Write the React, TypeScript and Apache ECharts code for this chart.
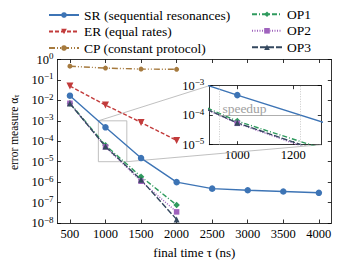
import React, { useEffect, useRef } from "react";
import * as echarts from "echarts";

const times = [500, 1000, 1500, 2000, 2500, 3000, 3500, 4000];
const srValues = [1.7e-2, 4.8e-4, 1.5e-5, 1.0e-6, 4.8e-7, 4.0e-7, 3.5e-7, 3.0e-7];
const erValues = [5.0e-2, 5.9e-3, 8.3e-4, 1.1e-4];
const cpValues = [0.47, 0.38, 0.34, 0.33];
const op1Values = [7.3e-3, 6.3e-5, 1.85e-6, 7.6e-8];
const op2Values = [7.2e-3, 5.3e-5, 1.1e-6, 3.5e-8];
const op3Values = [7.0e-3, 5.5e-5, 1.3e-6, 1.5e-8];
const xTicks = [500, 1000, 1500, 2000, 2500, 3000, 3500, 4000];
const insetXTicks = [1000, 1200];
const insetRange = [900, 1300];
const insetYRange = [1e-5, 1e-3];
const speedupTimes = [936, 1224];
const speedupLevel = 1e-4;

const FONT = "Liberation Serif";
const names = {
  sr: "SR (sequential resonances)",
  er: "ER (equal rates)",
  cp: "CP (constant protocol)",
  op1: "OP1",
  op2: "OP2",
  op3: "OP3",
};
const colors = {
  sr: "#3d74b5",
  er: "#c23b3b",
  cp: "#a67a3e",
  op1: "#2f9a5e",
  op2: "#9f62bd",
  op3: "#34485f",
};

const pairs = (vals: number[]) => vals.map((v, i) => [times[i], v]);

const supLabel = (v: number) => {
  const e = Math.round(Math.log10(v));
  const s = e < 0 ? "\u2212" + Math.abs(e) : String(e);
  return "{t|10}{sup|" + s + "}";
};

const rich = {
  t: { fontSize: 12.5, fontFamily: FONT, color: "#000" },
  sup: { fontSize: 9, verticalAlign: "top", padding: [0, 0, 7, 0], fontFamily: FONT, color: "#000" },
};

const lineAx = { show: true, lineStyle: { color: "#000", width: 0.8 } };
const tickAx = (vals?: number[]) => ({
  show: true,
  inside: true,
  length: 3.5,
  lineStyle: { color: "#000", width: 0.8 },
  ...(vals ? { customValues: vals } : {}),
});

function mkSeries(
  key: keyof typeof names,
  vals: number[],
  lineType: any,
  symbol: string,
  size: number,
  axis: number,
  extra: any = {}
) {
  return {
    type: "line",
    name: names[key],
    xAxisIndex: axis,
    yAxisIndex: axis,
    data: pairs(vals),
    symbol,
    symbolSize: size,
    color: colors[key],
    lineStyle: { color: colors[key], width: 1.4, type: lineType },
    itemStyle: { color: colors[key] },
    clip: true,
    silent: true,
    ...extra,
  };
}

export default function App() {
  const ref = useRef<HTMLDivElement>(null);
  useEffect(() => {
    if (!ref.current) return;
    const chart = echarts.init(ref.current, undefined, { renderer: "svg" });
    const styles: any = {
      sr: "solid",
      er: [4, 2],
      cp: [6, 2, 1, 2, 1, 2],
      op1: [5, 2, 1, 2],
      op2: [1, 1.5],
      op3: [6, 2],
    };
    const build = (axis: number) => [
      mkSeries("sr", srValues, styles.sr, "circle", 6.5, axis,
        axis === 0
          ? {
              markArea: {
                silent: true,
                itemStyle: { color: "rgba(0,0,0,0)", borderColor: "#b0b0b0", borderWidth: 0.8 },
                data: [[{ coord: [insetRange[0], insetYRange[1]] }, { coord: [insetRange[1], insetYRange[0]] }]],
              },
            }
          : {
              markLine: {
                silent: true,
                symbol: "none",
                animation: false,
                data: [
                  { xAxis: speedupTimes[0], lineStyle: { type: [1, 1.5], color: "#bbbbbb", width: 0.8 }, label: { show: false } },
                  { xAxis: speedupTimes[1], lineStyle: { type: [1, 1.5], color: "#bbbbbb", width: 0.8 }, label: { show: false } },
                  [
                    {
                      coord: [speedupTimes[0], speedupLevel],
                      lineStyle: { type: "solid", color: "#9a9a9a", width: 0.8 },
                      label: {
                        show: true,
                        position: "insideStartTop",
                        formatter: "{g|speedup}",
                        rich: { g: { color: "#a0a0a0", fontFamily: FONT, fontSize: 13.5 } },
                        distance: [3, 0],
                      },
                    },
                    { coord: [speedupTimes[1], speedupLevel] },
                  ],
                ],
              },
            }),
      mkSeries("er", erValues, styles.er, "triangle", 7, axis, { symbolRotate: 180 }),
      mkSeries("cp", cpValues, styles.cp, "circle", 5, axis),
      mkSeries("op1", op1Values, styles.op1, "diamond", 6.5, axis),
      mkSeries("op2", op2Values, styles.op2, "rect", 5.5, axis),
      mkSeries("op3", op3Values, styles.op3, "triangle", 6, axis),
    ];

    const plain = (v: number) => "{t|" + v + "}";
    const legendText = (n: string) => "{t|" + n + "}";
    const legendStyle = {
      fontFamily: FONT,
      fontSize: 13.5,
      color: "#000",
      rich: { t: { fontFamily: FONT, fontSize: 13.5, color: "#000", lineHeight: 12 } },
    };

    const option: any = {
      animation: false,
      textStyle: { fontFamily: FONT },
      legend: [
        {
          left: 43,
          top: 3,
          orient: "vertical",
          itemWidth: 30,
          itemHeight: 7,
          itemGap: 2.5,
          selectedMode: false,
          formatter: legendText,
          textStyle: legendStyle,
          data: [names.sr, names.er, names.cp],
        },
        {
          left: 246,
          top: 2.3,
          orient: "vertical",
          itemWidth: 30,
          itemHeight: 7,
          itemGap: 2.5,
          selectedMode: false,
          formatter: legendText,
          textStyle: legendStyle,
          data: [names.op1, names.op2, names.op3],
        },
      ],
      grid: [
        { left: 47, top: 59.5, right: 7.7, bottom: 32, containLabel: false },
        { left: 209.3, top: 85.7, width: 112, height: 59, containLabel: false, show: true, backgroundColor: "#fff", borderWidth: 0 },
      ],
      xAxis: [
        {
          gridIndex: 0,
          type: "value",
          position: "bottom",
          min: 325,
          max: 4175,
          axisLine: lineAx,
          axisTick: tickAx(xTicks),
          axisLabel: { margin: 4, customValues: xTicks, formatter: plain, rich },
          splitLine: { show: false },
          name: "{t|final time \u03c4 (ns)}",
          nameLocation: "middle",
          nameGap: 23,
          nameTextStyle: { fontFamily: FONT, rich: { t: { fontFamily: FONT, fontSize: 13, color: "#000" } } },
        },
        {
          gridIndex: 0,
          type: "value",
          position: "top",
          min: 325,
          max: 4175,
          axisLine: lineAx,
          axisTick: tickAx(xTicks),
          axisLabel: { show: false, customValues: xTicks },
          splitLine: { show: false },
        },
        {
          gridIndex: 1,
          type: "value",
          position: "bottom",
          min: insetRange[0],
          max: insetRange[1],
          axisLine: lineAx,
          axisTick: tickAx(insetXTicks),
          axisLabel: { margin: 4, customValues: insetXTicks, formatter: plain, rich },
          splitLine: { show: false },
        },
        {
          gridIndex: 1,
          type: "value",
          position: "top",
          min: insetRange[0],
          max: insetRange[1],
          axisLine: lineAx,
          axisTick: tickAx(insetXTicks),
          axisLabel: { show: false, customValues: insetXTicks },
          splitLine: { show: false },
        },
      ],
      yAxis: [
        {
          gridIndex: 0,
          type: "log",
          logBase: 10,
          position: "left",
          min: 1e-8,
          max: 1,
          interval: 1,
          axisLine: lineAx,
          axisTick: tickAx(),
          axisLabel: { margin: 4, formatter: supLabel, rich },
          splitLine: { show: false },
          minorTick: { show: false },
          name: "{t|error measure \u03b1}{sub|\u03c4}",
          nameLocation: "middle",
          nameGap: 36,
          nameTextStyle: {
            fontFamily: FONT,
            padding: [0, 0, 0, 18],
            rich: {
              t: { fontFamily: FONT, fontSize: 11.5, color: "#000" },
              sub: { fontSize: 8, verticalAlign: "bottom", padding: [5, 0, 0, 0], fontFamily: FONT, color: "#000" },
            },
          },
        },
        {
          gridIndex: 0,
          type: "log",
          logBase: 10,
          position: "right",
          min: 1e-8,
          max: 1,
          interval: 1,
          axisLine: lineAx,
          axisTick: tickAx(),
          axisLabel: { show: false },
          splitLine: { show: false },
        },
        {
          gridIndex: 1,
          type: "log",
          logBase: 10,
          position: "left",
          min: insetYRange[0],
          max: insetYRange[1],
          interval: 1,
          axisLine: lineAx,
          axisTick: tickAx(),
          axisLabel: { margin: 5, formatter: supLabel, rich },
          splitLine: { show: false },
        },
        {
          gridIndex: 1,
          type: "log",
          logBase: 10,
          position: "right",
          min: insetYRange[0],
          max: insetYRange[1],
          interval: 1,
          axisLine: lineAx,
          axisTick: tickAx(),
          axisLabel: { show: false },
          splitLine: { show: false },
        },
      ],
      series: [...build(0), ...build(2)],
    };
    option.series = option.series.map((s: any) => (s.xAxisIndex === 2 ? { ...s, yAxisIndex: 2 } : s));
    chart.setOption(option);

    const mainIdx = 0;
    const insetIdx = 6;
    const a1 = chart.convertToPixel({ seriesIndex: mainIdx }, [insetRange[0], insetYRange[1]]) as number[];
    const b1 = chart.convertToPixel({ seriesIndex: insetIdx }, [insetRange[0], insetYRange[1]]) as number[];
    const a2 = chart.convertToPixel({ seriesIndex: mainIdx }, [insetRange[1], insetYRange[0]]) as number[];
    const b2 = chart.convertToPixel({ seriesIndex: insetIdx }, [insetRange[1], insetYRange[0]]) as number[];
    chart.setOption({
      graphic: [
        { type: "line", silent: true, z: 1, shape: { x1: a1[0], y1: a1[1], x2: b1[0], y2: b1[1] }, style: { stroke: "#b0b0b0", lineWidth: 0.8 } },
        { type: "line", silent: true, z: 1, shape: { x1: a2[0], y1: a2[1], x2: b2[0], y2: b2[1] }, style: { stroke: "#b0b0b0", lineWidth: 0.8 } },
      ],
    });

    return () => chart.dispose();
  }, []);
  return <div ref={ref} style={{ width: 339, height: 264, position: "absolute", left: 0, top: 0 }} />;
}
